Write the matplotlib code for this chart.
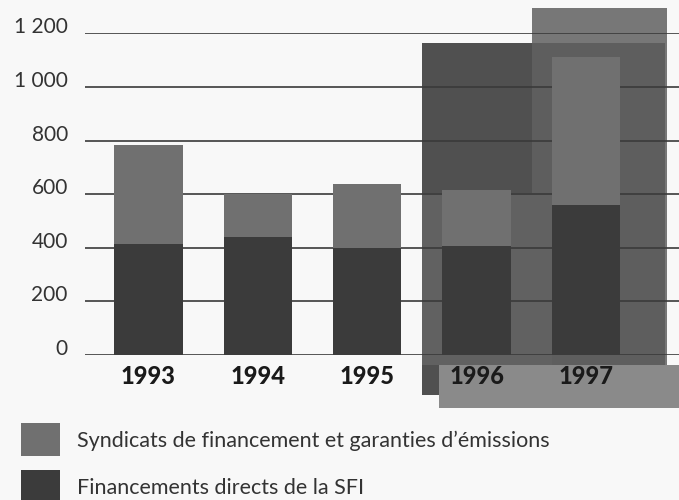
import matplotlib.pyplot as plt
from matplotlib.patches import Rectangle

plt.rcParams['font.family'] = ['Lato', 'DejaVu Sans']

# montants par exercice (millions de dollars)
years = ['1993', '1994', '1995', '1996', '1997']
directs = [415, 440, 400, 405, 560]
syndicats = [370, 160, 237, 210, 550]

yticks = [0, 200, 400, 600, 800, 1000, 1200]
ytick_labels = ['0', '200', '400', '600', '800', '1 000', '1 200']

legend_labels = ['Syndicats de financement et garanties d\u2019émissions',
                 'Financements directs de la SFI']

col_synd = '#707070'
col_dir = '#3b3b3b'
col_grid = '#3a3a3a'
col_text = '#333333'

# panneaux gris decoratifs derriere 1996-1997: (x0, x1, y0, y1, couleur)
panels = [
    (3.505, 4.74, -37, 1295, '#777777'),
    (2.50, 3.505, -149, 1164, '#505050'),
    (3.505, 4.72, -37, 1164, '#5e5e5e'),
    (2.50, 3.69, -37, 606, '#616161'),
    (2.66, 4.86, -198, -37, '#8a8a8a'),
]

fig = plt.figure(figsize=(6.79, 5.0), dpi=100, facecolor='#f8f8f8')
ax = fig.add_axes([85 / 679, 0.29, 594 / 679, 0.6434])
ax.set_facecolor('none')
ax.set_xlim(-0.58, 4.85)
ax.set_ylim(0, 1200)

for x0, x1, y0, y1, c in panels:
    ax.add_patch(Rectangle((x0, y0), x1 - x0, y1 - y0, color=c, lw=0,
                           zorder=0.5, clip_on=False))

for v, lab in zip(yticks, ytick_labels):
    ax.axhline(v, color=col_grid, lw=1.2, zorder=1)
    ax.text(-0.029, v + 22, lab, transform=ax.get_yaxis_transform(),
            ha='right', va='center', fontsize=15, color=col_text)

x = range(len(years))
ax.bar(x, directs, width=0.625, color=col_dir, zorder=2)
ax.bar(x, syndicats, width=0.625, bottom=directs, color=col_synd, zorder=2)

for i, yr in enumerate(years):
    ax.text(i, -82, yr, ha='center', va='center', fontsize=17,
            fontweight='black', color='#1a1a1a', clip_on=False, zorder=3)

ax.set_xticks([])
ax.set_yticks([])
for s in ax.spines.values():
    s.set_visible(False)

# legende
for k, (lab, c) in enumerate(zip(legend_labels, [col_synd, col_dir])):
    top = 423 + k * 47
    fig.patches.append(Rectangle((21 / 679, 1 - (top + 33) / 500), 39 / 679, 33 / 500,
                                 transform=fig.transFigure, color=c, lw=0))
    fig.text(77 / 679, 1 - (top + 18) / 500, lab, ha='left', va='center',
             fontsize=15.5, color=col_text)

fig.savefig('out.png', dpi=100, facecolor=fig.get_facecolor())
